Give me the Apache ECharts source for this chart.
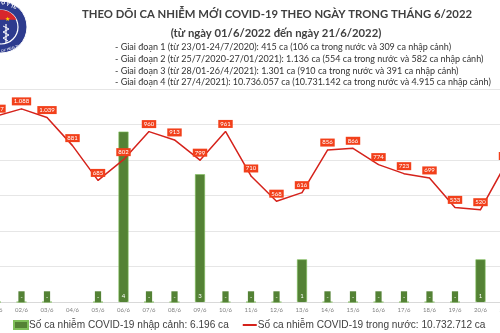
<!DOCTYPE html>
<html>
<head>
<meta charset="utf-8">
<script src="https://cdn.jsdelivr.net/npm/echarts@6/dist/echarts.min.js"></script>
<style>
html,body{margin:0;padding:0;background:#fff;overflow:hidden}
#c{width:500px;height:333px}
</style>
</head>
<body>
<div id="c"></div>
<script>
// ---- data ----
var categories = ['01/6','02/6','03/6','04/6','05/6','06/6','07/6','08/6','09/6','10/6','11/6','12/6','13/6','14/6','15/6','16/6','17/6','18/6','19/6','20/6','21/6'];
var domesticCases = [1047,1088,1039,881,685,802,960,913,799,961,710,568,616,856,866,774,723,699,533,520,780];
var importedCases = [0,0,0,null,0,4,0,0,3,0,0,0,1,0,0,0,0,0,0,1,0];
var titleText = 'THEO DÕI CA NHIỄM MỚI COVID-19 THEO NGÀY TRONG THÁNG 6/2022';
var subtitleText = '(từ ngày 01/6/2022 đến ngày 21/6/2022)';
var infoLines = [
  '- Giai đoạn 1 (từ 23/01-24/7/2020): 415 ca (106 ca trong nước và 309 ca nhập cảnh)',
  '- Giai đoạn 2 (từ 25/7/2020-27/01/2021): 1.136 ca (554 ca trong nước và 582 ca nhập cảnh)',
  '- Giai đoạn 3 (từ 28/01-26/4/2021): 1.301 ca (910 ca trong nước và 391 ca nhập cảnh)',
  '- Giai đoạn 4 (từ 27/4/2021): 10.736.057 ca (10.731.142 ca trong nước và 4.915 ca nhập cảnh)'
];
var legendImported = 'Số ca nhiễm COVID-19 nhập cảnh: 6.196 ca';
var legendDomestic = 'Số ca nhiễm COVID-19 trong nước: 10.732.712 ca';

function fmt(v){ return String(v).replace(/\B(?=(\d{3})+(?!\d))/g,'.'); }

// logo cap polygon (decoration)
var cx = 1, cy = 27, rIn = 17;
var capPts = [];
for (var a = -155; a <= -25; a += 5) {
  var t = a * Math.PI / 180;
  capPts.push([cx + rIn * Math.cos(t), cy + rIn * Math.sin(t)]);
}
var capClip = capPts.filter(function(p){ return p[1] <= 22; });

var chart = echarts.init(document.getElementById('c'), null, {renderer:'canvas'});
var BAR = '#548235';
var LINE = '#d5221b';
var LBL = '#f2401b';

chart.setOption({
  animation: false,
  backgroundColor: '#fff',
  grid: { left: -16.75, width: 535.5, top: 89, bottom: 31, containLabel: false, outerBoundsMode: 'none' },
  xAxis: {
    type: 'category', data: categories, boundaryGap: true,
    axisLine: { show: true, lineStyle: { color: '#d9d9d9', width: 1 } },
    axisTick: { show: false },
    axisLabel: { fontSize: 6, color: '#808080', margin: 5, fontFamily: 'Lato', interval: 0 }
  },
  yAxis: [
    { type: 'value', min: 0, max: 1200, interval: 200, show: true,
      axisLine: { show: false }, axisTick: { show: false }, axisLabel: { show: false },
      splitLine: { show: true, lineStyle: { color: '#e6e6e6', width: 1 } } },
    { type: 'value', min: 0, max: 5, show: false, splitLine: { show: false } }
  ],
  legend: {
    left: 8, top: 315, width: 600, itemWidth: 14, itemHeight: 8, itemGap: 14,
    textStyle: { fontSize: 10.1, color: '#404040', fontFamily: 'Liberation Sans', padding: [0,0,0,-4] },
    data: [
      { name: legendImported, icon: 'rect' },
      { name: legendDomestic, icon: 'path://M0,0H14V2H0Z' }
    ]
  },
  series: [
    {
      name: legendImported, type: 'bar', yAxisIndex: 1, data: importedCases,
      barWidth: 10,
      itemStyle: { color: BAR, borderColor: '#7fbf5a', borderWidth: 0.6 },
      label: {
        show: true, position: 'insideBottom', distance: 0,
        fontSize: 6, color: '#fff', fontFamily: 'Lato',
        backgroundColor: BAR, padding: [2,2], lineHeight: 7,
        formatter: function(p){ return p.value === 0 ? '-' : String(p.value); }
      },
      z: 2
    },
    {
      name: legendDomestic, type: 'line', yAxisIndex: 0, data: domesticCases,
      symbol: 'circle', symbolSize: 1, showSymbol: true, smooth: false,
      lineStyle: { color: LINE, width: 1.5 },
      itemStyle: { color: LINE },
      label: {
        show: true, position: 'top', distance: 3,
        fontSize: 6, color: '#fff', fontFamily: 'Lato',
        backgroundColor: LBL, padding: [1,2], lineHeight: 6,
        formatter: function(p){ return fmt(p.value); }
      },
      z: 3
    }
  ],
  graphic: [
    // logo
    { type: 'circle', shape: { cx: cx, cy: cy, r: 26 }, style: { fill: '#2d3b8e', stroke: '#ffffff', lineWidth: 1 }, silent: true },
    { type: 'circle', shape: { cx: cx, cy: cy, r: rIn }, style: { fill: '#2d3b8e', stroke: '#ffffff', lineWidth: 1.2 }, silent: true },
    { type: 'polygon', shape: { points: capClip }, style: { fill: '#d8262c' }, silent: true },
    { type: 'text', x: 7, y: 19, style: { text: '★', fontSize: 6, fill: '#ffd200', textAlign: 'center', textVerticalAlign: 'middle' }, silent: true },
    { type: 'line', shape: { x1: 6, y1: 24, x2: 6, y2: 43 }, style: { stroke: '#ffffff', lineWidth: 1.2 }, silent: true },
    { type: 'polyline', shape: { points: [[3,26],[9,29],[3,32],[9,35],[3,38],[8,41]] }, style: { stroke: '#ffffff', lineWidth: 1, fill: null }, silent: true },
    { type: 'text', x: 9, y: 5, rotation: -0.35, style: { text: 'Ộ Y TẾ', fontSize: 5, fill: '#ffffff', fontWeight: 'bold', textAlign: 'center', textVerticalAlign: 'middle' }, silent: true },
    { type: 'text', x: 9, y: 49, rotation: 0.3, style: { text: 'Y OF HEALTH', fontSize: 3.5, fill: '#ffffff', textAlign: 'center', textVerticalAlign: 'middle' }, silent: true },
    // titles
    { type: 'text', x: 277, y: 14, style: { text: titleText, fontSize: 11.3, fontWeight: 'bold', fontFamily: 'Lato', fill: '#404040', textAlign: 'center', textVerticalAlign: 'middle' }, silent: true },
    { type: 'text', x: 276, y: 33, style: { text: subtitleText, fontSize: 11.3, fontWeight: 'bold', fontFamily: 'Lato', fill: '#404040', textAlign: 'center', textVerticalAlign: 'middle' }, silent: true },
    { type: 'text', x: 115, y: 47, style: { text: infoLines[0], fontSize: 9, fontFamily: 'Lato', fill: '#333333', textVerticalAlign: 'middle' }, silent: true },
    { type: 'text', x: 115, y: 59, style: { text: infoLines[1], fontSize: 9, fontFamily: 'Lato', fill: '#333333', textVerticalAlign: 'middle' }, silent: true },
    { type: 'text', x: 115, y: 71, style: { text: infoLines[2], fontSize: 9, fontFamily: 'Lato', fill: '#333333', textVerticalAlign: 'middle' }, silent: true },
    { type: 'text', x: 115, y: 82, style: { text: infoLines[3], fontSize: 9, fontFamily: 'Lato', fill: '#333333', textVerticalAlign: 'middle' }, silent: true }
  ]
});
</script>
</body>
</html>
